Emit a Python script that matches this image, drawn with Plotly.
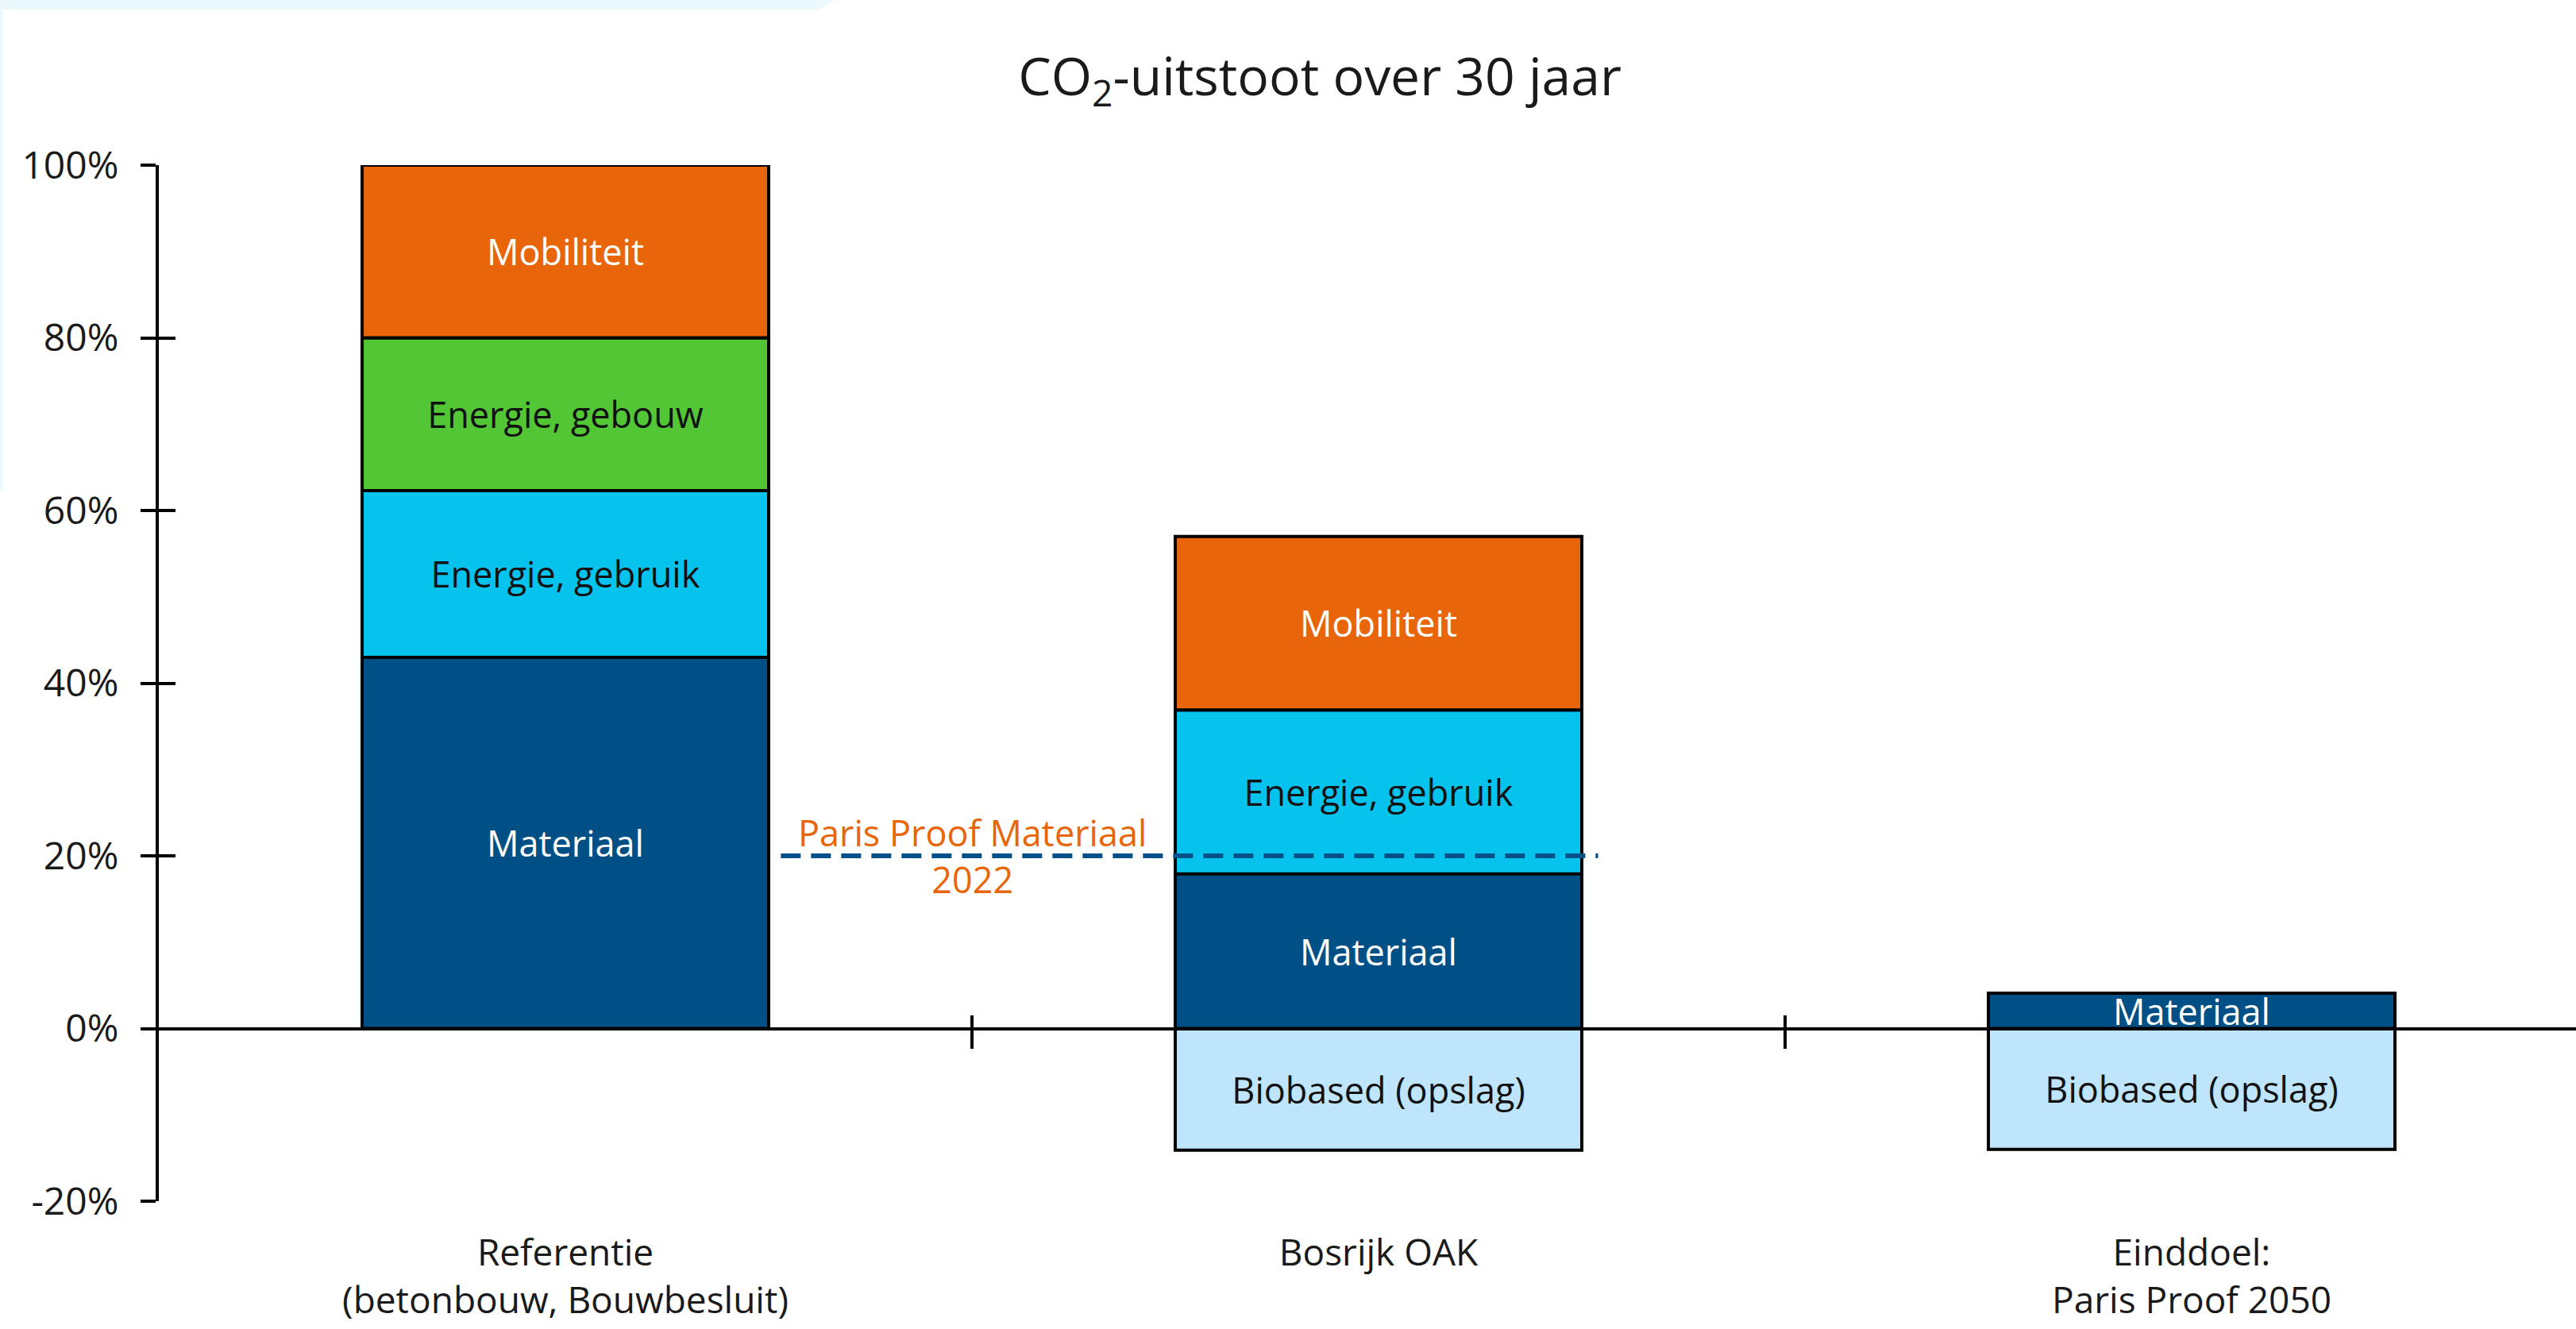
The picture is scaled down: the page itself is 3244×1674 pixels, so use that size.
import plotly.graph_objects as go

# ---------------- data ----------------
categories = ["Referentie<br>(betonbouw, Bouwbesluit)", "Bosrijk OAK", "Einddoel:<br>Paris Proof 2050"]
cat_pos = [0, 1, 2]

biobased = [None, -14.1, -14.0]
materiaal = [43.0, 17.9, 4.1]
energie_gebruik = [19.3, 19.0, None]
energie_gebouw = [17.7, None, None]
mobiliteit = [20.0, 20.1, None]

paris_proof_materiaal = 20
paris_label = "Paris Proof Materiaal<br>2022"

y_tick_vals = [-20, 0, 20, 40, 60, 80, 100]
y_tick_text = ["-20%", "0%", "20%", "40%", "60%", "80%", "100%"]

title_text = "CO<sub>2</sub>-uitstoot over 30 jaar"

# ---------------- styling ----------------
W, H = 3244, 1674
ML, MR, MT, MB = 200, 0, 208, 161
FONT = "Open Sans"
FS = 45
FS_AX = 48
FS_CAT = 46
X_RANGE = [-0.5, -0.5 + (W - ML - MR) / 1024]
Y_RANGE = [-20, 100]
ZERO_POS = (0 - Y_RANGE[0]) / (Y_RANGE[1] - Y_RANGE[0])

series = [
    ("Biobased (opslag)", biobased, "#BEE5FB", "#111111"),
    ("Materiaal", materiaal, "#005086", "#FFFFFF"),
    ("Energie, gebruik", energie_gebruik, "#05C3ED", "#111111"),
    ("Energie, gebouw", energie_gebouw, "#52C634", "#111111"),
    ("Mobiliteit", mobiliteit, "#E8650A", "#FFFFFF"),
]

fig = go.Figure()
for name, vals, color, tcolor in series:
    fig.add_trace(go.Bar(
        name=name,
        x=cat_pos,
        y=vals,
        width=0.5,
        marker=dict(color=color, line=dict(color="#000000", width=4)),
        text=[name if v is not None else None for v in vals],
        textposition="inside",
        insidetextanchor="middle",
        textangle=0,
        constraintext="none",
        textfont=dict(family=FONT, size=FS, color=tcolor),
        hoverinfo="skip",
        showlegend=False,
    ))

# empty helper traces so the overlay axes (zero line, crossing ticks) get drawn
for xa, ya in [("x2", "y"), ("x3", "y"), ("x", "y2")]:
    fig.add_trace(go.Scatter(x=[None], y=[None], xaxis=xa, yaxis=ya,
                             mode="lines", hoverinfo="skip", showlegend=False))

# Paris Proof dashed reference line
fig.add_shape(
    type="line", xref="x", yref="y",
    x0=0.265, x1=1.27, y0=paris_proof_materiaal, y1=paris_proof_materiaal,
    line=dict(color="#00508A", width=6, dash="25px,13px"),
    layer="above",
)
fig.add_annotation(
    x=0.5, y=paris_proof_materiaal, xref="x", yref="y",
    text=paris_label, showarrow=False,
    font=dict(family=FONT, size=FS, color="#E8650A"),
    xanchor="center", yanchor="middle", align="center",
)

# faint background frame (top-left corner of the source image)
def px(xp):
    return (xp - ML) / (W - ML - MR)

def py(yp):
    return (H - MB - yp) / (H - MT - MB)

path = (f"M {px(0)},{py(0)} L {px(1052)},{py(0)} L {px(1032)},{py(12)} "
        f"L {px(3)},{py(12)} L {px(3)},{py(619)} L {px(0)},{py(619)} Z")
fig.add_shape(type="path", xref="paper", yref="paper", path=path,
              fillcolor="#EBF9FD", line=dict(width=0), layer="below")

axis_common = dict(showgrid=False, zeroline=False, fixedrange=True, automargin=False)

fig.update_layout(
    width=W, height=H,
    margin=dict(l=ML, r=MR, t=MT, b=MB, pad=0, autoexpand=False),
    paper_bgcolor="#FFFFFF", plot_bgcolor="#FFFFFF",
    barmode="relative",
    bargap=0.5,
    showlegend=False,
    font=dict(family=FONT, size=FS, color="#1a1a1a"),
    title=dict(text=title_text, x=1662 / W, xanchor="center", xref="container",
               y=1 - 97 / H, yref="container", yanchor="middle", automargin=False,
               font=dict(family=FONT, size=66, color="#1a1a1a")),
    xaxis=dict(range=X_RANGE, tickvals=cat_pos, ticktext=categories,
               showline=False, ticks="", ticklabelstandoff=34,
               tickfont=dict(family=FONT, size=FS_CAT, color="#1a1a1a"), **axis_common),
    yaxis=dict(range=Y_RANGE, tickvals=y_tick_vals, ticktext=y_tick_text,
               showline=True, linecolor="#000000", linewidth=4,
               ticks="outside", ticklen=19, tickwidth=4, tickcolor="#000000",
               ticklabelstandoff=18,
               tickfont=dict(family=FONT, size=FS_AX, color="#1a1a1a"), **axis_common),
    yaxis2=dict(range=Y_RANGE, overlaying="y", side="left", anchor="x", tickvals=y_tick_vals,
                showticklabels=False, showline=False,
                ticks="inside", ticklen=21, tickwidth=4, tickcolor="#000000", **axis_common),
    xaxis2=dict(range=X_RANGE, overlaying="x", anchor="free", position=ZERO_POS,
                tickvals=[0.5, 1.5], showticklabels=False,
                showline=True, linecolor="#000000", linewidth=4,
                ticks="outside", ticklen=23, tickwidth=4, tickcolor="#000000", **axis_common),
    xaxis3=dict(range=X_RANGE, overlaying="x", anchor="free", position=ZERO_POS,
                tickvals=[0.5, 1.5], showticklabels=False, showline=False,
                ticks="inside", ticklen=17, tickwidth=4, tickcolor="#000000", **axis_common),
    uniformtext=dict(minsize=FS, mode="show"),
)

fig.write_html("out.html", config={"displayModeBar": False},
               post_script="document.body.style.margin='0px';document.body.style.overflow='hidden';")
